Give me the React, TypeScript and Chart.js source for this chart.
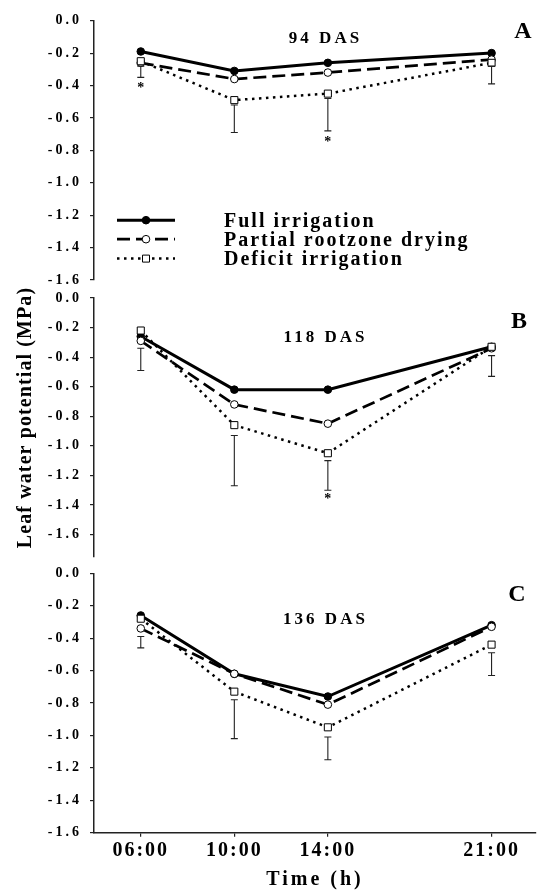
import React, { useEffect, useRef } from "react";
import { Chart, registerables } from "chart.js";

Chart.register(...registerables);

// ---------- data ----------
const times = [6, 10, 14, 21];
const timeLabels = ["06:00", "10:00", "14:00", "21:00"];
const yTickValues = [0, -0.2, -0.4, -0.6, -0.8, -1.0, -1.2, -1.4, -1.6];
const seriesNames = ["Full irrigation", "Partial rootzone drying", "Deficit irrigation"];
const panelTitles = ["94 DAS", "118 DAS", "136 DAS"];
const panelLetters = ["A", "B", "C"];
const xTitle = "Time (h)";
const yTitle = "Leaf water potential (MPa)";

// Panel A (94 DAS)
const fullA = [-0.19, -0.31, -0.26, -0.2];
const prdA = [-0.26, -0.36, -0.32, -0.24];
const defA = [-0.25, -0.49, -0.45, -0.26];
const barTopA = [-0.28, -0.52, -0.48, -0.28];
const barBottomA = [-0.35, -0.69, -0.68, -0.39];
const starA: (number | null)[] = [-0.4, null, -0.73, null];

// Panel B (118 DAS)
const fullB = [-0.26, -0.62, -0.62, -0.33];
const prdB = [-0.29, -0.72, -0.85, -0.34];
const defB = [-0.22, -0.86, -1.05, -0.33];
const barTopB = [-0.34, -0.93, -1.1, -0.39];
const barBottomB = [-0.49, -1.27, -1.3, -0.53];
const starB: (number | null)[] = [null, null, -1.345, null];

// Panel C (136 DAS)
const fullC = [-0.26, -0.62, -0.76, -0.32];
const prdC = [-0.34, -0.62, -0.81, -0.33];
const defC = [-0.28, -0.73, -0.95, -0.44];
const barTopC = [-0.39, -0.78, -1.01, -0.49];
const barBottomC = [-0.46, -1.02, -1.15, -0.63];
const starC: (number | null)[] = [null, null, null, null];

// ---------- styling ----------
const SERIF = '"Liberation Serif", "Times New Roman", serif';
const W = 542;
const H = 890;

type Panel = {
  full: number[];
  prd: number[];
  def: number[];
  barTop: number[];
  barBottom: number[];
  stars: (number | null)[];
  title: string;
  letter: string;
  yMin: number;
  padTop: number;
  padBottom: number;
  showX: boolean;
  titleY: number;
  letterX: number;
  letterY: number;
  legend: boolean;
  yAxisTitle: boolean;
};

const panels: Panel[] = [
  {
    full: fullA, prd: prdA, def: defA, barTop: barTopA, barBottom: barBottomA, stars: starA,
    title: panelTitles[0], letter: panelLetters[0], yMin: -1.6,
    padTop: 20.7, padBottom: H - 280, showX: false,
    titleY: 38.5, letterX: 523, letterY: 31.7, legend: true, yAxisTitle: false,
  },
  {
    full: fullB, prd: prdB, def: defB, barTop: barTopB, barBottom: barBottomB, stars: starB,
    title: panelTitles[1], letter: panelLetters[1], yMin: -1.75,
    padTop: 298, padBottom: H - 556.7, showX: false,
    titleY: 337.5, letterX: 519, letterY: 321.6, legend: false, yAxisTitle: true,
  },
  {
    full: fullC, prd: prdC, def: defC, barTop: barTopC, barBottom: barBottomC, stars: starC,
    title: panelTitles[2], letter: panelLetters[2], yMin: -1.6,
    padTop: 573.3, padBottom: 0, showX: true,
    titleY: 620, letterX: 517, letterY: 594.7, legend: false, yAxisTitle: false,
  },
];

function spacedText(ctx: CanvasRenderingContext2D, spacing: string, fn: () => void) {
  const c = ctx as any;
  const prev = c.letterSpacing;
  c.letterSpacing = spacing;
  fn();
  c.letterSpacing = prev ?? "0px";
}

function patchScale(scale: any, labelSpacing: string, titleSpacing: string) {
  if (scale.__patched) return;
  scale.__patched = true;
  const origLabels = scale.drawLabels.bind(scale);
  const origTitle = scale.drawTitle.bind(scale);
  scale.drawLabels = (area: any) => spacedText(scale.ctx, labelSpacing, () => origLabels(area));
  scale.drawTitle = () => spacedText(scale.ctx, titleSpacing, () => origTitle());
}

function drawMarker(ctx: CanvasRenderingContext2D, kind: number, x: number, y: number) {
  ctx.save();
  ctx.setLineDash([]);
  ctx.lineWidth = 1;
  ctx.strokeStyle = "#000";
  if (kind === 0) {
    ctx.fillStyle = "#000";
    ctx.beginPath();
    ctx.arc(x, y, 3.8, 0, Math.PI * 2);
    ctx.fill();
    ctx.stroke();
  } else if (kind === 1) {
    ctx.fillStyle = "#fff";
    ctx.beginPath();
    ctx.arc(x, y, 3.8, 0, Math.PI * 2);
    ctx.fill();
    ctx.stroke();
  } else {
    ctx.fillStyle = "#fff";
    ctx.beginPath();
    ctx.rect(x - 3.5, y - 3.5, 7, 7);
    ctx.fill();
    ctx.stroke();
  }
  ctx.restore();
}

const lineStyles = [
  { width: 3, dash: [] as number[] },
  { width: 2.7, dash: [13, 6] },
  { width: 2.5, dash: [2.5, 4.5] },
];

function makeDecor(p: Panel) {
  return {
    id: "decor",
    afterDatasetsDraw(chart: any) {
      const ctx: CanvasRenderingContext2D = chart.ctx;
      const xs = chart.scales.x;
      const ys = chart.scales.y;
      ctx.save();
      (ctx as any).letterSpacing = "0px";
      // error bars (I-beams)
      ctx.strokeStyle = "#222";
      ctx.lineWidth = 1.1;
      ctx.setLineDash([]);
      times.forEach((t, i) => {
        const x = xs.getPixelForValue(t);
        const y1 = ys.getPixelForValue(p.barTop[i]);
        const y2 = ys.getPixelForValue(p.barBottom[i]);
        ctx.beginPath();
        ctx.moveTo(x, y1);
        ctx.lineTo(x, y2);
        ctx.moveTo(x - 3.5, y1);
        ctx.lineTo(x + 3.5, y1);
        ctx.moveTo(x - 3.5, y2);
        ctx.lineTo(x + 3.5, y2);
        ctx.stroke();
      });
      // significance stars
      ctx.fillStyle = "#000";
      ctx.font = `bold 14px ${SERIF}`;
      ctx.textAlign = "center";
      ctx.textBaseline = "middle";
      times.forEach((t, i) => {
        const s = p.stars[i];
        if (s === null || s === undefined) return;
        ctx.fillText("*", xs.getPixelForValue(t), ys.getPixelForValue(s) + 3);
      });
      ctx.restore();
    },
    afterDraw(chart: any) {
      const ctx: CanvasRenderingContext2D = chart.ctx;
      ctx.save();
      ctx.fillStyle = "#000";
      ctx.textBaseline = "middle";
      // panel title
      ctx.font = `bold 17px ${SERIF}`;
      ctx.textAlign = "center";
      spacedText(ctx, "3px", () => ctx.fillText(p.title, 325.5, p.titleY));
      // panel letter
      ctx.font = `bold 24px ${SERIF}`;
      spacedText(ctx, "0px", () => ctx.fillText(p.letter, p.letterX, p.letterY));
      // legend
      if (p.legend) {
        const rows = [220.2, 239.2, 258.6];
        rows.forEach((ry, k) => {
          ctx.save();
          ctx.strokeStyle = "#000";
          ctx.lineWidth = lineStyles[k].width;
          ctx.setLineDash(lineStyles[k].dash);
          ctx.beginPath();
          ctx.moveTo(117, ry);
          ctx.lineTo(175, ry);
          ctx.stroke();
          ctx.restore();
          drawMarker(ctx, k, 146, ry);
          ctx.font = `bold 20px ${SERIF}`;
          ctx.textAlign = "left";
          spacedText(ctx, "2px", () => ctx.fillText(seriesNames[k], 224, ry + 1.5));
        });
      }
      // shared y-axis title
      if (p.yAxisTitle) {
        ctx.translate(26, 417.5);
        ctx.rotate(-Math.PI / 2);
        ctx.font = `bold 20px ${SERIF}`;
        ctx.textAlign = "center";
        spacedText(ctx, "1.1px", () => ctx.fillText(yTitle, 0, 0));
      }
      ctx.restore();
      (ctx as any).letterSpacing = "0px";
    },
  };
}

function makeConfig(p: Panel): any {
  const pts = (arr: number[]) => times.map((t, i) => ({ x: t, y: arr[i] }));
  return {
    type: "line",
    data: {
      datasets: [
        {
          label: seriesNames[0],
          data: pts(p.full),
          borderColor: "#000",
          borderWidth: lineStyles[0].width,
          borderDash: lineStyles[0].dash,
          pointStyle: "circle",
          pointRadius: 3.8,
          pointBackgroundColor: "#000",
          pointBorderColor: "#000",
          pointBorderWidth: 1,
          tension: 0,
          order: 3,
        },
        {
          label: seriesNames[1],
          data: pts(p.prd),
          borderColor: "#000",
          borderWidth: lineStyles[1].width,
          borderDash: lineStyles[1].dash,
          pointStyle: "circle",
          pointRadius: 3.8,
          pointBackgroundColor: "#fff",
          pointBorderColor: "#000",
          pointBorderWidth: 1,
          tension: 0,
          order: 2,
        },
        {
          label: seriesNames[2],
          data: pts(p.def),
          borderColor: "#000",
          borderWidth: lineStyles[2].width,
          borderDash: lineStyles[2].dash,
          pointStyle: "rect",
          pointRadius: 5,
          pointBackgroundColor: "#fff",
          pointBorderColor: "#000",
          pointBorderWidth: 1,
          tension: 0,
          order: 1,
        },
      ],
    },
    options: {
      animation: false,
      responsive: false,
      maintainAspectRatio: false,
      events: [],
      layout: { padding: { left: 0, right: 0, top: p.padTop, bottom: p.padBottom } },
      plugins: { legend: { display: false }, tooltip: { enabled: false } },
      scales: {
        x: {
          type: "linear",
          min: 4,
          max: 22.9,
          display: p.showX,
          afterBuildTicks: (s: any) => {
            s.ticks = times.map((v) => ({ value: v }));
          },
          afterFit: (s: any) => {
            if (p.showX) {
              s.height = 57.3;
              patchScale(s, "2px", "3px");
            }
          },
          ticks: {
            autoSkip: false,
            maxRotation: 0,
            padding: 2,
            color: "#000",
            font: { family: SERIF, size: 20, weight: "bold" },
            callback: (v: any) => {
              const i = times.indexOf(Number(v));
              return i >= 0 ? timeLabels[i] : "";
            },
          },
          grid: { drawOnChartArea: false, drawTicks: true, tickLength: 4, color: "#222", lineWidth: 1.2 },
          border: { display: true, color: "#222", width: 1.5 },
          title: {
            display: true,
            text: xTitle,
            color: "#000",
            padding: 0,
            font: { family: SERIF, size: 20, weight: "bold", lineHeight: 1 },
          },
        },
        y: {
          type: "linear",
          min: p.yMin,
          max: 0,
          afterBuildTicks: (s: any) => {
            s.ticks = yTickValues.map((v) => ({ value: v }));
          },
          afterFit: (s: any) => {
            s.width = 94;
            patchScale(s, "3px", "0px");
          },
          ticks: {
            padding: 8,
            color: "#000",
            font: { family: SERIF, size: 14, weight: "bold" },
            callback: (v: any) => Number(v).toFixed(1),
          },
          grid: { drawOnChartArea: false, drawTicks: true, tickLength: 4, color: "#222", lineWidth: 1.2 },
          border: { display: true, color: "#222", width: 1.5 },
        },
      },
    },
    plugins: [makeDecor(p)],
  };
}

function PanelCanvas({ panel }: { panel: Panel }) {
  const ref = useRef<HTMLCanvasElement | null>(null);
  useEffect(() => {
    if (!ref.current) return;
    const chart = new Chart(ref.current, makeConfig(panel));
    return () => chart.destroy();
  }, [panel]);
  return (
    <canvas
      ref={ref}
      width={W}
      height={H}
      style={{ position: "absolute", left: 0, top: 0, width: W, height: H }}
    />
  );
}

export default function App() {
  return (
    <div
      style={{
        position: "absolute",
        left: 0,
        top: 0,
        width: W,
        height: H,
        background: "#fff",
        overflow: "hidden",
      }}
    >
      {panels.map((p, i) => (
        <PanelCanvas key={i} panel={p} />
      ))}
    </div>
  );
}
